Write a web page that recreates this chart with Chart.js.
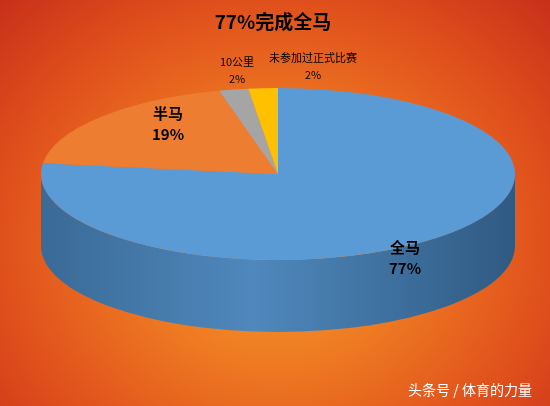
<!DOCTYPE html>
<html><head><meta charset="utf-8">
<script src="https://cdn.jsdelivr.net/npm/chart.js@4/dist/chart.umd.min.js"></script>
<style>
html,body{margin:0;padding:0;}
body{width:550px;height:406px;overflow:hidden;
background:radial-gradient(ellipse at 50% 60%, #f7a030 0%, #ee7a22 35%, #e0501c 70%, #c8301a 100%);}
canvas{display:block;}
</style></head><body>
<canvas id="c" width="550" height="406"></canvas>
<script>
const categories = ["全马", "半马", "10公里", "未参加过正式比赛"];
const values = [77, 19, 2, 2];
const pctLabels = ["77%", "19%", "2%", "2%"];
const colors = ["#5b9bd5", "#ed7d31", "#a5a5a5", "#ffc000"];
const sideColors = ["#41719c", "#b85f24", "#7f7f7f", "#bf9000"];

const geo = {cx: 278, cy: 174, rx: 237, ry: 86, depth: 72};
const labelPos = [[405, 247, 17], [168, 113, 17], [237, 62, 13], [313, 58, 13]];

const pie3d = {
  id: 'pie3d',
  beforeDatasetsDraw(chart) {
    const ctx = chart.ctx, meta = chart.getDatasetMeta(0);
    const a0 = meta.data[0];
    const px = a0.x, py = a0.y, r = a0.outerRadius;
    meta.data.forEach((arc, i) => {
      const segs = [[Math.max(arc.startAngle, 0), Math.min(arc.endAngle, Math.PI)],
                    [Math.max(arc.startAngle, 2*Math.PI), Math.min(arc.endAngle, 3*Math.PI)]];
      segs.forEach(([a, b]) => {
        if (b <= a) return;
        ctx.beginPath();
        ctx.ellipse(geo.cx, geo.cy, geo.rx, geo.ry, 0, a, b);
        ctx.ellipse(geo.cx, geo.cy + geo.depth, geo.rx, geo.ry, 0, b, a, true);
        ctx.closePath();
        const g = ctx.createLinearGradient(geo.cx - geo.rx, 0, geo.cx + geo.rx, 0);
        g.addColorStop(0, '#3a6a96'); g.addColorStop(0.45, '#4f88bd'); g.addColorStop(1, '#2f5a82');
        ctx.fillStyle = i === 0 ? g : sideColors[i];
        ctx.fill();
      });
    });
    ctx.save();
    ctx.translate(geo.cx, geo.cy);
    ctx.scale(geo.rx / r, geo.ry / r);
    ctx.translate(-px, -py);
  },
  afterDatasetsDraw(chart) { chart.ctx.restore(); },
  afterDraw(chart) {
    const ctx = chart.ctx;
    ctx.save();
    ctx.textAlign = 'center'; ctx.textBaseline = 'middle';
    ctx.fillStyle = '#000';
    ctx.font = 'bold 19px "Noto Sans CJK SC", sans-serif';
    ctx.fillText('77%完成全马', 273, 22);
    labelPos.forEach(([x, y, fs], i) => {
      const f = (i >= 2 ? '' : 'bold ') + (fs - 2) + 'px "Noto Sans CJK SC", sans-serif';
      ctx.font = f;
      ctx.fillText(categories[i], x, y);
      ctx.fillText(pctLabels[i], x, y + fs + 4);
    });
    ctx.fillStyle = '#fff';
    ctx.font = '14px "Noto Sans CJK SC", sans-serif';
    ctx.fillText('头条号 / 体育的力量', 470, 390);
    ctx.restore();
  }
};

new Chart(document.getElementById('c'), {
  type: 'pie',
  data: {labels: categories, datasets: [{data: values, backgroundColor: colors, borderWidth: 0}]},
  options: {
    responsive: false, animation: false, events: [],
    layout: {padding: 40},
    plugins: {legend: {display: false}, tooltip: {enabled: false}, title: {display: false}}
  },
  plugins: [pie3d]
});
</script>
</body></html>
